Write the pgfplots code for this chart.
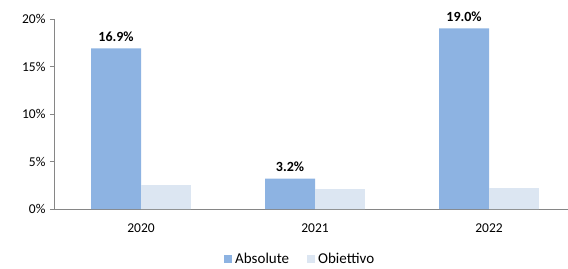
\documentclass[border=0pt]{standalone}
\usepackage{pgfplots}
\pgfplotsset{compat=1.18}
\usepackage{fontspec}
\setmainfont{Carlito}
\definecolor{absc}{RGB}{141,179,226}
\definecolor{obic}{RGB}{220,230,242}
\definecolor{axc}{RGB}{134,134,134}
\begin{document}
\begin{tikzpicture}
\useasboundingbox (0,0) rectangle (568pt,268pt);
\begin{axis}[
  at={(54pt,59pt)}, anchor=south west,
  scale only axis, width=514pt, height=190pt,
  xmin=-0.5, xmax=2.454, ymin=0, ymax=20,
  axis x line*=bottom, axis y line*=left,
  axis line style={axc, line width=0.8pt},
  ytick={0,5,10,15,20},
  yticklabels={0\%,5\%,10\%,15\%,20\%},
  ytick style={axc, line width=0.8pt},
  major tick length=4pt,
  tick align=outside,
  xtick={0,1,2},
  xticklabels={2020,2021,2022},
  x tick style={draw=none},
  extra x ticks={-0.5,0.5,1.5},
  extra x tick labels={},
  extra x tick style={tick style={draw=axc, line width=0.8pt}},
  tick label style={font=\fontsize{13.5}{15}\selectfont, text=black},
  yticklabel style={xshift=-1pt},
  xticklabel style={yshift=-7pt},
  ybar, bar width=0.287,
  legend style={at={(0.479,-0.262)}, anchor=center, legend columns=2, draw=none,
    font=\fontsize{15}{16}\selectfont, inner sep=0pt, column sep=0pt},
  legend image code/.code={\fill[#1] (0pt,-4pt) rectangle (8pt,4pt);},
]
\addplot[fill=absc, draw=none, bar shift=-0.1435,
  nodes near coords={\pgfmathprintnumber[assume math mode=true,fixed,fixed zerofill,precision=1]{\pgfplotspointmeta}\%},
  nodes near coords style={font=\bfseries\fontsize{14}{16}\selectfont, anchor=south, yshift=3pt}]
  coordinates {(0,16.9) (1,3.2) (2,19.0)};
\addlegendentry{\kern1pt Absolute\kern16pt}
\addplot[fill=obic, draw=none, bar shift=0.1435]
  coordinates {(0,2.5) (1,2.1) (2,2.2)};
\addlegendentry{\kern1pt Obiettivo}
\end{axis}
\end{tikzpicture}
\end{document}
